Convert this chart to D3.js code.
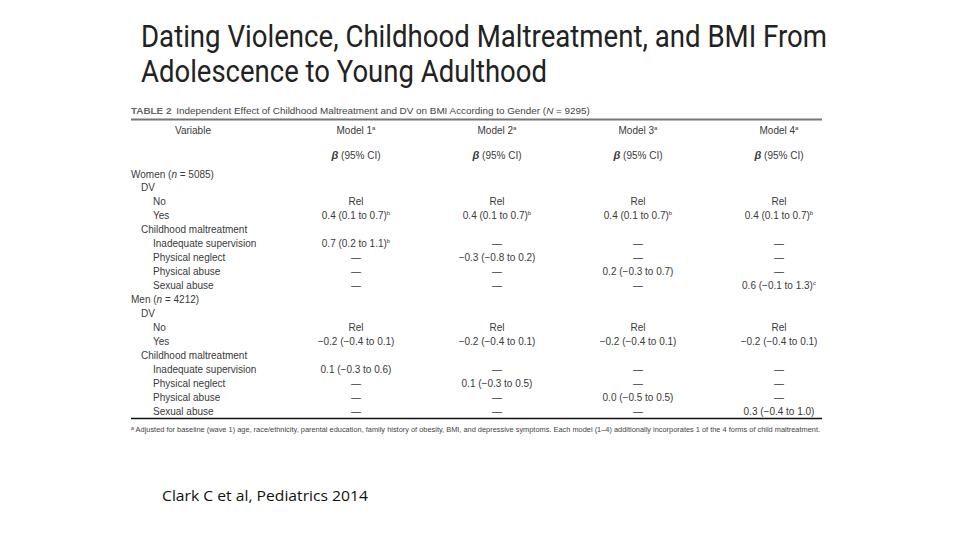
<!DOCTYPE html>
<html>
<head>
<meta charset="utf-8">
<script src="https://cdn.jsdelivr.net/npm/d3@7"></script>
<style>
  html, body { margin: 0; padding: 0; background: #ffffff; }
  svg { display: block; }
</style>
</head>
<body>
<svg id="chart" width="960" height="540"></svg>
<script>
// ---------- DATA ----------
const titleLines = ["Dating Violence, Childhood Maltreatment, and BMI From", "Adolescence to Young Adulthood"];
const tableTitle = "Independent Effect of Childhood Maltreatment and DV on BMI According to Gender";
const totalN = "9295";
const modelNames = ["Model 1", "Model 2", "Model 3", "Model 4"];
const variables = [
  "Women (n = 5085)", "DV", "No", "Yes", "Childhood maltreatment",
  "Inadequate supervision", "Physical neglect", "Physical abuse", "Sexual abuse",
  "Men (n = 4212)", "DV", "No", "Yes", "Childhood maltreatment",
  "Inadequate supervision", "Physical neglect", "Physical abuse", "Sexual abuse"
];
const indentLevels = [0, 1, 2, 2, 1, 2, 2, 2, 2, 0, 1, 2, 2, 1, 2, 2, 2, 2];
// "" = blank cell, "—" = not in model
const model1 = ["", "", "Rel", "0.4 (0.1 to 0.7)", "", "0.7 (0.2 to 1.1)", "—", "—", "—",
                "", "", "Rel", "−0.2 (−0.4 to 0.1)", "", "0.1 (−0.3 to 0.6)", "—", "—", "—"];
const model2 = ["", "", "Rel", "0.4 (0.1 to 0.7)", "", "—", "−0.3 (−0.8 to 0.2)", "—", "—",
                "", "", "Rel", "−0.2 (−0.4 to 0.1)", "", "—", "0.1 (−0.3 to 0.5)", "—", "—"];
const model3 = ["", "", "Rel", "0.4 (0.1 to 0.7)", "", "—", "—", "0.2 (−0.3 to 0.7)", "—",
                "", "", "Rel", "−0.2 (−0.4 to 0.1)", "", "—", "—", "0.0 (−0.5 to 0.5)", "—"];
const model4 = ["", "", "Rel", "0.4 (0.1 to 0.7)", "", "—", "—", "—", "0.6 (−0.1 to 1.3)",
                "", "", "Rel", "−0.2 (−0.4 to 0.1)", "", "—", "—", "—", "0.3 (−0.4 to 1.0)"];
const model1Sup = ["", "", "", "b", "", "b", "", "", "", "", "", "", "", "", "", "", "", ""];
const model2Sup = ["", "", "", "b", "", "", "", "", "", "", "", "", "", "", "", "", "", ""];
const model3Sup = ["", "", "", "b", "", "", "", "", "", "", "", "", "", "", "", "", "", ""];
const model4Sup = ["", "", "", "b", "", "", "", "", "c", "", "", "", "", "", "", "", "", ""];
const footnote = "Adjusted for baseline (wave 1) age, race/ethnicity, parental education, family history of obesity, BMI, and depressive symptoms. Each model (1–4) additionally incorporates 1 of the 4 forms of child maltreatment.";
const citation = "Clark C et al, Pediatrics 2014";

// ---------- LAYOUT ----------
const svg = d3.select("#chart");
const tableFont = "'Liberation Sans Narrow', 'Liberation Sans', Arial, sans-serif";
const ink = "#3a3a3a";

function fit(sel, w) {
  sel.attr("textLength", w).attr("lengthAdjust", "spacingAndGlyphs");
  return sel;
}

// Title
const titleG = svg.append("g");
titleLines.forEach((t, i) => {
  const el = titleG.append("text")
    .attr("x", 141).attr("y", 47 + i * 35)
    .attr("font-family", "'Liberation Sans Narrow', 'Roboto', sans-serif")
    .attr("font-size", 31)
    .attr("fill", "#222")
    .text(t);
  fit(el, i === 0 ? 686 : 406);
});

// Table title
const tt = svg.append("text")
  .attr("x", 131).attr("y", 114)
  .attr("font-family", tableFont).attr("font-size", 9.9).attr("fill", "#444");
tt.append("tspan").attr("font-weight", "bold").attr("fill", "#666").text("TABLE 2");
tt.append("tspan").text("\u2002" + tableTitle + " (");
tt.append("tspan").attr("font-style", "italic").text("N");
tt.append("tspan").text(" = " + totalN + ")");

// rules
const x0 = 131, x1 = 822;
svg.append("line").attr("x1", x0).attr("x2", x1).attr("y1", 119.5).attr("y2", 119.5)
  .attr("stroke", "#777").attr("stroke-width", 2);

// Scales
const y = d3.scalePoint().domain(d3.range(variables.length)).range([174, 411]);
const xCol = d3.scalePoint().domain(modelNames).range([356, 779]);
const indent = d3.scaleOrdinal().domain([0, 1, 2]).range([131, 141, 153]);

// Column headers
svg.append("text").attr("x", 193).attr("y", 134).attr("text-anchor", "middle")
  .attr("font-family", tableFont).attr("font-size", 10).attr("fill", ink).text("Variable");
modelNames.forEach(m => {
  const h = svg.append("text").attr("x", xCol(m)).attr("y", 134).attr("text-anchor", "middle")
    .attr("font-family", tableFont).attr("font-size", 10).attr("fill", ink);
  h.append("tspan").text(m);
  h.append("tspan").attr("font-size", 6).attr("dy", -4).text("a");
  const b = svg.append("text").attr("x", xCol(m)).attr("y", 159).attr("text-anchor", "middle")
    .attr("font-family", tableFont).attr("font-size", 10).attr("fill", ink);
  b.append("tspan").attr("font-style", "italic").attr("font-weight", "bold").attr("font-size", 11).text("β");
  b.append("tspan").text(" (95% CI)");
});

// Variable column
svg.append("g").selectAll("text").data(variables).join("text")
  .attr("x", (d, i) => indent(indentLevels[i]))
  .attr("y", (d, i) => y(i) + 3.5)
  .attr("font-family", tableFont).attr("font-size", 10).attr("fill", ink)
  .each(function (d) {
    const t = d3.select(this);
    const m = d.match(/^(.*)\((n)( = .*)\)$/);
    if (m) {
      t.append("tspan").text(m[1] + "(");
      t.append("tspan").attr("font-style", "italic").text(m[2]);
      t.append("tspan").text(m[3] + ")");
    } else t.text(d);
  });

// Model columns
const models = [[model1, model1Sup], [model2, model2Sup], [model3, model3Sup], [model4, model4Sup]];
models.forEach(([vals, sups], k) => {
  const cx = xCol(modelNames[k]);
  svg.append("g").selectAll("text").data(vals).join("text")
    .attr("x", cx)
    .attr("y", (d, i) => y(i) + 3.5)
    .attr("text-anchor", "middle")
    .attr("font-family", tableFont).attr("font-size", 10).attr("fill", ink)
    .each(function (d, i) {
      const t = d3.select(this);
      t.append("tspan").text(d);
      if (sups[i]) {
        t.append("tspan").attr("font-size", 6).attr("dy", -4).text(sups[i]);
      }
    });
});

svg.append("line").attr("x1", x0).attr("x2", x1).attr("y1", 418.5).attr("y2", 418.5)
  .attr("stroke", "#111").attr("stroke-width", 1.5);

// Footnote
const fn = svg.append("text").attr("x", 131).attr("y", 432)
  .attr("font-family", tableFont).attr("font-size", 7).attr("fill", "#444");
fn.append("tspan").attr("font-size", 5).attr("dy", -2).text("a");
fn.append("tspan").attr("dy", 2).text(" " + footnote);
fit(fn, 689);

// Citation
const cit = svg.append("text").attr("x", 162).attr("y", 501)
  .attr("font-family", "'Open Sans', 'Noto Sans', sans-serif")
  .attr("font-size", 15).attr("fill", "#111").text(citation);
fit(cit, 206);
</script>
</body>
</html>
